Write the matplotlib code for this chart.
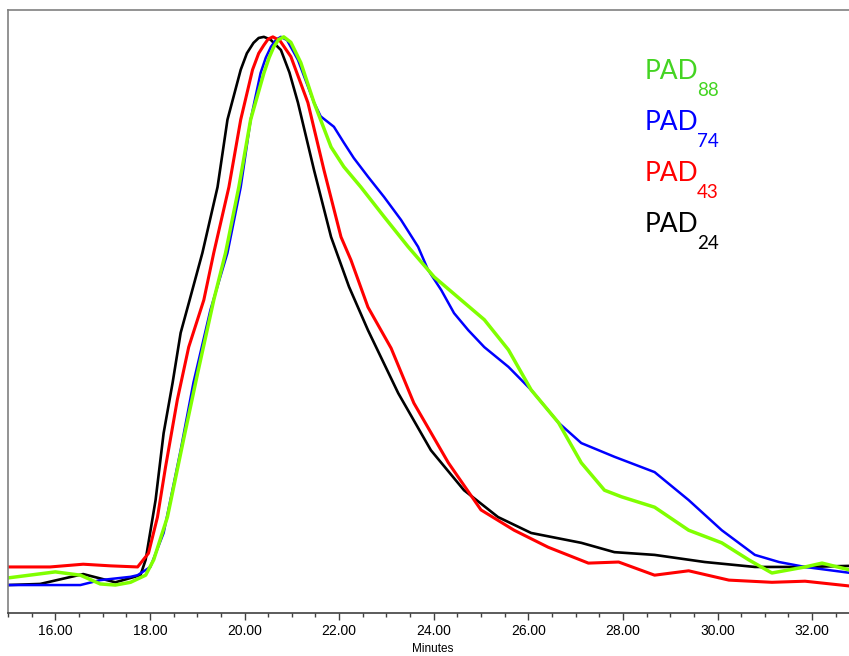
import numpy as np
import matplotlib
matplotlib.use("Agg")
import matplotlib.pyplot as plt
from matplotlib.ticker import MultipleLocator

# retention time (minutes) and relative signal (% of peak)
t_24 = [15.00, 15.68, 16.59, 17.27, 17.80, 17.91, 18.12, 18.29, 18.48, 18.65, 18.84, 19.11,
        19.43, 19.64, 19.92, 20.05, 20.19, 20.30, 20.41, 20.55, 20.77, 20.95, 21.13, 21.47,
        21.83, 22.21, 22.61, 23.25, 23.94, 24.64, 25.36, 26.06, 27.12, 27.82, 28.67, 29.73,
        30.79, 31.85, 32.82]
s_24 = [0.0, 0.2, 2.0, 0.5, 1.8, 4.6, 15.5, 27.7, 36.9, 46.0, 52.0, 60.6,
        72.6, 84.9, 94.0, 97.0, 98.9, 99.8, 100.0, 99.5, 97.6, 93.5, 88.0, 75.7,
        63.5, 54.4, 46.5, 35.0, 24.6, 17.3, 12.4, 9.5, 7.7, 6.0, 5.5, 4.2,
        3.3, 3.3, 3.5]

t_43 = [15.00, 15.89, 16.59, 17.17, 17.74, 17.97, 18.16, 18.33, 18.58, 18.82, 19.14, 19.35,
        19.67, 19.92, 20.17, 20.30, 20.41, 20.50, 20.60, 20.75, 20.98, 21.34, 21.68, 22.04,
        22.25, 22.61, 23.10, 23.58, 24.31, 25.00, 25.70, 26.42, 27.27, 27.91, 28.67, 29.39,
        30.24, 31.15, 31.85, 32.82]
s_43 = [3.3, 3.3, 3.8, 3.5, 3.3, 5.8, 12.4, 21.5, 33.8, 43.4, 52.0, 60.6,
        72.6, 84.9, 94.0, 97.0, 98.5, 99.6, 100.0, 99.3, 96.4, 88.0, 75.7, 63.5,
        59.3, 50.7, 43.2, 33.2, 22.3, 13.7, 10.0, 6.9, 4.0, 4.2, 1.8, 2.6,
        0.9, 0.5, 0.7, -0.2]

t_74 = [15.00, 15.89, 16.53, 16.95, 17.59, 17.74, 18.01, 18.29, 18.65, 18.92, 19.28, 19.64,
        19.92, 20.13, 20.34, 20.45, 20.56, 20.67, 20.77, 20.90, 21.13, 21.47, 21.61, 21.89,
        22.10, 22.31, 22.61, 22.95, 23.31, 23.67, 23.88, 24.16, 24.43, 24.73, 25.07, 25.58,
        26.06, 26.64, 27.12, 27.82, 28.67, 29.39, 30.09, 30.79, 31.30, 31.85, 32.82]
s_74 = [0.0, 0.0, 0.0, 0.9, 1.5, 1.8, 3.3, 9.5, 24.6, 36.9, 50.2, 60.6,
        72.6, 84.9, 93.4, 96.2, 98.2, 99.5, 100.0, 99.4, 95.8, 88.0, 85.5, 83.6,
        80.7, 77.9, 74.5, 70.8, 66.6, 61.7, 57.5, 53.8, 49.6, 46.5, 43.4, 39.8,
        35.6, 29.6, 25.9, 23.4, 20.6, 15.5, 10.0, 5.5, 4.2, 3.3, 2.2]

t_88 = [15.00, 16.00, 16.53, 16.95, 17.27, 17.59, 17.91, 18.08, 18.37, 18.71, 19.01, 19.35,
        19.60, 19.88, 20.13, 20.41, 20.52, 20.62, 20.72, 20.83, 20.98, 21.19, 21.47, 21.83,
        22.10, 22.46, 22.95, 23.46, 24.01, 24.58, 25.07, 25.58, 26.06, 26.64, 27.12, 27.61,
        27.97, 28.67, 29.39, 30.09, 30.66, 31.15, 31.85, 32.21, 32.82]
s_88 = [1.3, 2.4, 1.8, 0.2, 0.0, 0.5, 1.8, 4.6, 12.4, 26.5, 38.7, 52.0,
        60.6, 72.6, 84.9, 93.4, 96.2, 98.2, 99.5, 100.0, 99.0, 95.3, 88.0, 79.9,
        76.3, 72.6, 67.2, 61.7, 56.2, 52.0, 48.4, 42.9, 35.6, 29.6, 22.3, 17.3,
        16.1, 14.2, 10.0, 7.7, 4.6, 2.2, 3.3, 4.0, 2.7]

names = ["88", "74", "43", "24"]
text_colors = ["#44d422", "#0000ff", "#ff0000", "#000000"]

fig = plt.figure(figsize=(8.49, 6.56), dpi=100)
ax = fig.add_axes([8 / 849, 1 - 613 / 656, 1 - 8 / 849, (613 - 10) / 656])

ax.plot(t_24, s_24, color="#000000", lw=1.9)
ax.plot(t_74, s_74, color="#0000ff", lw=1.8)
ax.plot(t_43, s_43, color="#ff0000", lw=2.2)
ax.plot(t_88, s_88, color="#80ff00", lw=2.5)

ax.set_xlim(15.0, 32.78)
ax.set_ylim(-5.1, 104.9)
ax.set_yticks([])
ax.xaxis.set_minor_locator(MultipleLocator(0.5))
ax.set_xticks(np.arange(16, 33, 2))
ax.set_xticklabels([f"{v:.2f}" for v in np.arange(16, 33, 2)], fontsize=10,
                   family="Liberation Sans")
ax.tick_params(axis="x", which="major", length=5, width=1, direction="out", pad=3,
               color="#404040")
ax.tick_params(axis="x", which="minor", length=3, width=1, direction="out",
               color="#404040")
ax.spines["right"].set_visible(False)
ax.spines["top"].set_color("#808080")
ax.spines["left"].set_color("#808080")
ax.spines["bottom"].set_color("#404040")
for s in ["top", "left", "bottom"]:
    ax.spines[s].set_linewidth(1.2)

fig.text(433 / 849, 1 - 649 / 656, "Minutes", ha="center", va="center", fontsize=8.5,
         family="Liberation Sans")

# legend labels: PAD with subscript
for i, (n, c) in enumerate(zip(names, text_colors)):
    yb = 79 + i * 51
    fig.text(645 / 849, 1 - yb / 656, "PAD", color=c, fontsize=19, family="Lato",
             va="baseline", ha="left")
    fig.text(697 / 849, 1 - (yb + 17) / 656, n, color=c, fontsize=13.5, family="Lato",
             va="baseline", ha="left")

plt.savefig("out.png", dpi=100)
